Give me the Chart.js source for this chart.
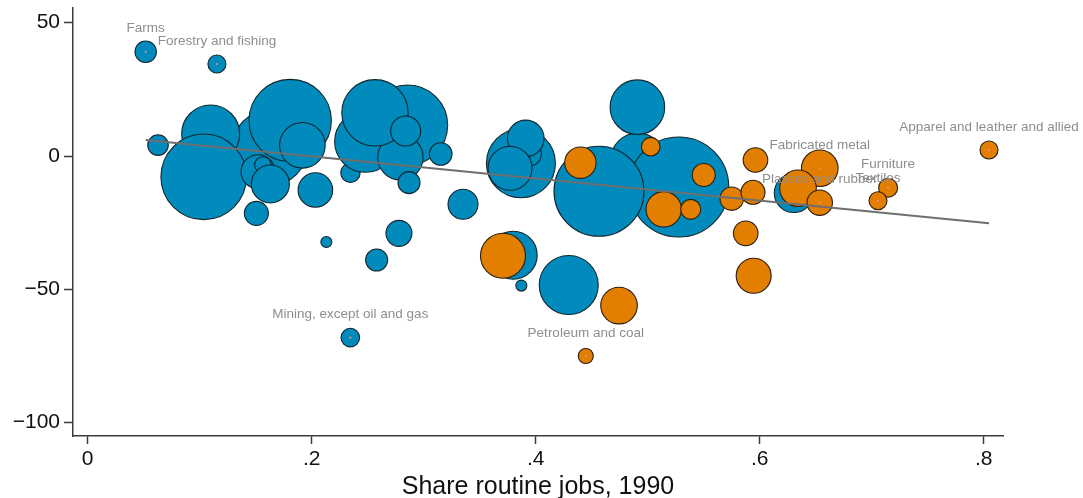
<!DOCTYPE html>
<html>
<head>
<meta charset="utf-8">
<script src="https://cdn.jsdelivr.net/npm/chart.js@4.4.1/dist/chart.umd.min.js"></script>
<style>
  html, body { margin: 0; padding: 0; background: #ffffff; }
  #wrap { width: 1083px; height: 498px; position: relative; }
  canvas { display: block; }
</style>
</head>
<body>
<div id="wrap"><canvas id="c" width="1083" height="498"></canvas></div>
<script>
// ---- Data ----
// Non-manufacturing sectors (blue): share routine jobs 1990, change, bubble size
const blueX = [0.0628, 0.1625, 0.1098, 0.1036, 0.1808, 0.1917, 0.1521, 0.1565, 0.1631, 0.1506,
               0.2033, 0.2346, 0.2131, 0.2857, 0.2479, 0.2792, 0.2565, 0.2839, 0.3152, 0.2869,
               0.2779, 0.2580, 0.3351, 0.3868, 0.3946, 0.3911, 0.3771, 0.4911, 0.5277, 0.4565,
               0.4908, 0.3799, 0.3872, 0.4295, 0.2345, 0.6304, 0.0518, 0.1154];
const blueY = [4.1, 3.0, 8.25, -7.8, 13.3, 4.0, -5.9, -3.4, -10.5, -21.5,
               -12.75, -6.3, -32.25, 11.6, 5.4, -0.5, 16.2, 9.4, 0.75, -10.0,
               -29.0, -39.0, -18.1, -2.7, 0.75, 6.6, -4.6, -1.5, -11.6, -13.2,
               18.3, -37.2, -48.6, -48.4, -68.1, -13.9, 39.1, 34.5];
const blueR = [10.3, 37.7, 29, 42.8, 41.2, 22.8, 17, 8.3, 19, 12,
               17.3, 9.7, 5.5, 40, 30.7, 22.7, 33.2, 15, 11.3, 11,
               13, 11, 15, 34.5, 11.7, 18.3, 22, 27, 50, 45,
               27.3, 24, 5.5, 29.5, 9.3, 19.5, 10.7, 9];

// Manufacturing sectors (orange)
const orangeX = [0.4399, 0.5027, 0.5500, 0.5143, 0.5384, 0.5750, 0.5962, 0.5940, 0.5875, 0.5946,
                 0.6536, 0.6342, 0.6536, 0.7146, 0.7056, 0.8047, 0.3708, 0.4744, 0.4447];
const orangeY = [-2.5, 3.5, -7.1, -20.0, -20.0, -16.0, -1.5, -13.6, -29.0, -44.9,
                 -4.6, -12.1, -17.5, -11.9, -16.8, 2.25, -37.4, -56.1, -75.0];
const orangeR = [15.7, 9.3, 11.5, 17.7, 10, 11.7, 12.3, 12, 12.3, 17.5,
                 18.3, 18.3, 12.7, 9.5, 9, 9, 22.5, 18.3, 7.5];

// Labelled sectors
const labelNames = ["Farms", "Forestry and fishing", "Mining, except oil and gas", "Petroleum and coal",
                    "Fabricated metal", "Plastics and rubber", "Furniture", "Textiles",
                    "Apparel and leather and allied"];
const labelX = [0.0518, 0.1154, 0.2345, 0.4447, 0.6536, 0.6536, 0.7146, 0.7056, 0.8047];
const labelY = [39.1, 34.5, -68.1, -75.0, -4.6, -17.5, -11.9, -16.8, 2.25];

// Linear fit line (end points)
const fitX = [0.0518, 0.8047];
const fitY = [6.0, -25.2];

// Axes
const xTickValues = [0, 0.2, 0.4, 0.6, 0.8];
const xTickLabels = ["0", ".2", ".4", ".6", ".8"];
const yTickValues = [50, 0, -50, -100];
const yTickLabels = ["50", "0", "\u221250", "\u2212100"];
const xTitle = "Share routine jobs, 1990";

// ---- Build chart ----
const FONT = "'Liberation Sans', Arial, Helvetica, sans-serif";
const AXIS_COLOR = '#3a3a3a';

const toPts = (xs, ys, rs) => xs.map((x, i) => ({ x: x, y: ys[i], r: rs ? rs[i] : 0 }));

const labelPlugin = {
  id: 'labels',
  afterDatasetsDraw(chart) {
    const ctx = chart.ctx;
    const xs = chart.scales.x, ys = chart.scales.y;
    ctx.save();
    ctx.font = '13.5px ' + FONT;
    ctx.fillStyle = '#8e8e8e';
    ctx.textAlign = 'center';
    ctx.textBaseline = 'middle';
    labelNames.forEach((name, i) => {
      const px = xs.getPixelForValue(labelX[i]);
      const py = ys.getPixelForValue(labelY[i]);
      ctx.fillText(name, px, py - 23);
    });
    ctx.restore();
  }
};

const bgPlugin = {
  id: 'bg',
  beforeDraw(chart) {
    const ctx = chart.ctx;
    ctx.save();
    ctx.fillStyle = '#ffffff';
    ctx.fillRect(0, 0, chart.width, chart.height);
    ctx.restore();
  }
};

new Chart(document.getElementById('c'), {
  type: 'bubble',
  data: {
    datasets: [
      {
        type: 'scatter',
        label: 'label markers',
        data: toPts(labelX, labelY),
        pointRadius: 1.1,
        pointBackgroundColor: '#e98a8a',
        pointBorderWidth: 0,
        clip: false,
        order: -1
      },
      {
        type: 'line',
        label: 'fit',
        data: fitX.map((x, i) => ({ x: x, y: fitY[i] })),
        borderColor: '#6f6f6f',
        borderWidth: 2,
        pointRadius: 0,
        fill: false,
        clip: false,
        order: 0
      },
      {
        label: 'manufacturing',
        data: toPts(orangeX, orangeY, orangeR),
        backgroundColor: '#e37f00',
        borderColor: '#2a1d10',
        borderWidth: 1.1,
        clip: false,
        order: 1
      },
      {
        label: 'other',
        data: toPts(blueX, blueY, blueR),
        backgroundColor: '#008bbc',
        borderColor: '#10262f',
        borderWidth: 1.1,
        clip: false,
        order: 2
      }
    ]
  },
  options: {
    responsive: false,
    animation: false,
    events: [],
    layout: { autoPadding: false, padding: { top: 8, right: 80, left: 0, bottom: 0 } },
    plugins: {
      legend: { display: false },
      tooltip: { enabled: false },
      title: { display: false }
    },
    scales: {
      x: {
        type: 'linear',
        min: -0.0131,
        max: 0.8172,
        afterFit(scale) { scale.height = 62; },
        afterBuildTicks(scale) { scale.ticks = xTickValues.map(v => ({ value: v })); },
        ticks: {
          callback: (v) => { const i = xTickValues.indexOf(v); return i >= 0 ? xTickLabels[i] : ''; },
          font: { family: FONT, size: 21 },
          color: '#111111',
          padding: 3,
          maxRotation: 0,
          autoSkip: false
        },
        grid: { display: true, drawOnChartArea: false, drawTicks: true, tickLength: 8, tickWidth: 1.5, tickColor: AXIS_COLOR },
        border: { display: true, color: AXIS_COLOR, width: 1.5 },
        title: {
          display: true,
          text: xTitle,
          font: { family: FONT, size: 25, lineHeight: 1 },
          color: '#111111',
          padding: { top: 0, bottom: -2 }
        }
      },
      y: {
        type: 'linear',
        min: -105,
        max: 55.5,
        afterFit(scale) { scale.width = 73; scale.paddingTop = 0; scale.paddingBottom = 0; },
        afterBuildTicks(scale) { scale.ticks = yTickValues.map(v => ({ value: v })); },
        ticks: {
          callback: (v) => { const i = yTickValues.indexOf(v); return i >= 0 ? yTickLabels[i] : ''; },
          font: { family: FONT, size: 21 },
          color: '#111111',
          padding: 4,
          autoSkip: false
        },
        grid: { display: true, drawOnChartArea: false, drawTicks: true, tickLength: 9, tickWidth: 1.5, tickColor: AXIS_COLOR },
        border: { display: true, color: AXIS_COLOR, width: 1.5 }
      }
    }
  },
  plugins: [bgPlugin, labelPlugin]
});
</script>
</body>
</html>
